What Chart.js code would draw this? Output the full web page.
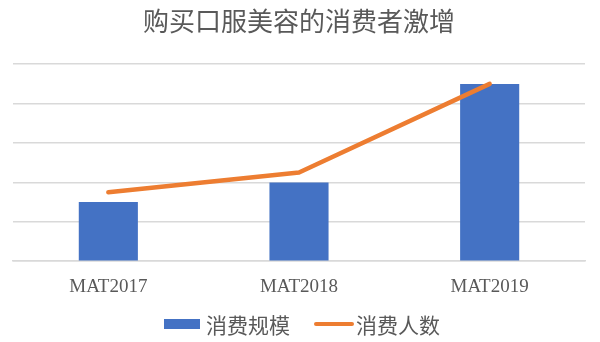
<!DOCTYPE html>
<html>
<head>
<meta charset="utf-8">
<script src="https://cdn.jsdelivr.net/npm/chart.js@4/dist/chart.umd.min.js"></script>
<style>
  html, body { margin: 0; padding: 0; background: #ffffff; }
  #wrap { width: 600px; height: 342px; }
</style>
</head>
<body>
<div id="wrap"><canvas id="c" width="600" height="342"></canvas></div>
<script>
const categories = ['MAT2017', 'MAT2018', 'MAT2019'];
const spendScale = [1.5, 2.0, 4.5];      // 消费规模
const consumerCount = [1.75, 2.25, 4.5]; // 消费人数
const titleText = '购买口服美容的消费者激增';
const seriesNames = ['消费规模', '消费人数'];

const CJK = '"Noto Sans CJK SC", "Noto Sans", sans-serif';
const textGray = '#595959';
const blue = '#4472C4';
const orange = '#ED7D31';

// Legend drawn below the category labels: a filled swatch for the bars,
// a short stroke for the line, each followed by its series name.
const bottomLegend = {
  id: 'bottomLegend',
  afterDraw(chart) {
    const ctx = chart.ctx;
    const font = '21px ' + CJK;
    const cy = 324;
    const swatchW = 36, textGap = 6, itemGap = 24;
    ctx.save();
    ctx.font = font;
    const ds = [chart.data.datasets[1], chart.data.datasets[0]];
    const widths = ds.map(d => swatchW + textGap + ctx.measureText(d.label).width);
    const total = widths[0] + itemGap + widths[1];
    let x = 302 - total / 2;
    ds.forEach((d, i) => {
      if (d.type === 'bar') {
        ctx.fillStyle = d.backgroundColor;
        ctx.fillRect(x, cy - 5, swatchW, 10);
      } else {
        ctx.strokeStyle = d.borderColor;
        ctx.lineWidth = 4;
        ctx.lineCap = 'round';
        ctx.beginPath();
        ctx.moveTo(x + 2, cy);
        ctx.lineTo(x + swatchW + 2, cy);
        ctx.stroke();
      }
      ctx.fillStyle = textGray;
      ctx.textBaseline = 'middle';
      ctx.textAlign = 'left';
      ctx.fillText(d.label, x + swatchW + textGap, cy + 1);
      x += widths[i] + itemGap;
    });
    ctx.restore();
  }
};

new Chart(document.getElementById('c'), {
  data: {
    labels: categories,
    datasets: [
      {
        type: 'line',
        label: seriesNames[1],
        data: consumerCount,
        borderColor: orange,
        backgroundColor: orange,
        borderWidth: 4.5,
        borderCapStyle: 'round',
        borderJoinStyle: 'round',
        pointRadius: 0,
        pointHoverRadius: 0,
        tension: 0,
        order: 0
      },
      {
        type: 'bar',
        label: seriesNames[0],
        data: spendScale,
        backgroundColor: blue,
        borderWidth: 0,
        barPercentage: 0.31,
        categoryPercentage: 1,
        order: 1
      }
    ]
  },
  plugins: [bottomLegend],
  options: {
    responsive: false,
    animation: false,
    devicePixelRatio: 1,
    layout: { padding: { left: 13, right: 15, top: 0, bottom: 30 } },
    plugins: {
      title: {
        display: true,
        text: titleText,
        color: textGray,
        font: { family: CJK, size: 26, weight: 'normal' },
        padding: { top: 6, bottom: 27 }
      },
      legend: { display: false },
      tooltip: { enabled: false }
    },
    scales: {
      x: {
        offset: true,
        grid: { display: false, drawTicks: false },
        border: { display: true, color: '#d9d9d9', width: 1.5 },
        ticks: {
          color: textGray,
          padding: 14,
          font: { family: '"Liberation Serif", serif', size: 19 }
        }
      },
      y: {
        min: 0,
        max: 5,
        ticks: { display: false, stepSize: 1 },
        border: { display: false },
        grid: { color: '#d9d9d9', lineWidth: 1.5, drawTicks: false }
      }
    }
  }
});
</script>
</body>
</html>
